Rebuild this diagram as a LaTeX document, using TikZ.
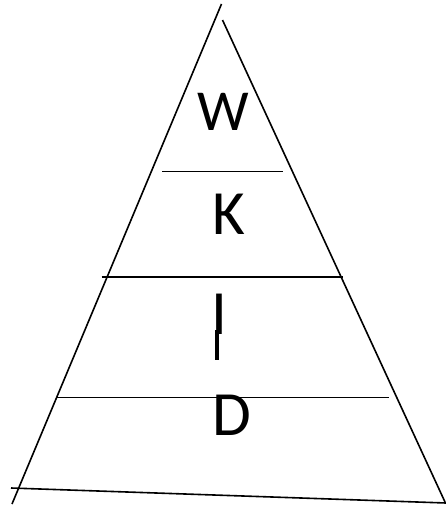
\documentclass[tikz,border=0pt]{standalone}
\usepackage{fontspec}
\setmainfont{Carlito}
\usetikzlibrary{positioning}
\tikzset{
  side/.style  ={draw=black, line width=1.6pt},
  rung/.style  ={draw=black, line width=1.6pt},
  lvl/.style   ={inner sep=0pt, font=\fontsize{63}{64}\selectfont},
  toplvl/.style={inner sep=0pt, font=\fontsize{58}{60}\selectfont},
}
\begin{document}
\begin{tikzpicture}[x=1pt,y=-1pt]
\useasboundingbox (0,0) rectangle (446,506);
% outline of the pyramid
\coordinate (apexL) at (221.5,4);  \coordinate (footL) at (12,504);
\coordinate (apexR) at (222.5,20); \coordinate (footR) at (445,502);
\coordinate (baseL) at (11,488);   \coordinate (baseR) at (446,503);
\draw[side] (apexL)--(footL); \draw[side] (apexR)--(footR); \draw[side] (baseL)--(baseR);
% dividers
\coordinate (w1) at (162,171.5);  \coordinate (e1) at (283,171.5);
\coordinate (w2) at (101.5,277);  \coordinate (e2) at (343,277);
\coordinate (w3) at (56,397.5);   \coordinate (e3) at (389,397.5);
\draw[rung] (w1)--(e1); \draw[rung] (w2)--(e2); \draw[rung] (w3)--(e3);
% levels
\node[toplvl] (wis) at (223.5,111.5) {W};
\node[lvl] (kno) at (229,214) {K};
\node[lvl] (inf) at (219,314) {I};
\node[lvl] (dat) at (231.5,415) {D};
\coordinate (tickT) at (217,330); \coordinate (tickB) at (217,360);
\draw[line width=4pt] (tickT)--(tickB);
\end{tikzpicture}
\end{document}
